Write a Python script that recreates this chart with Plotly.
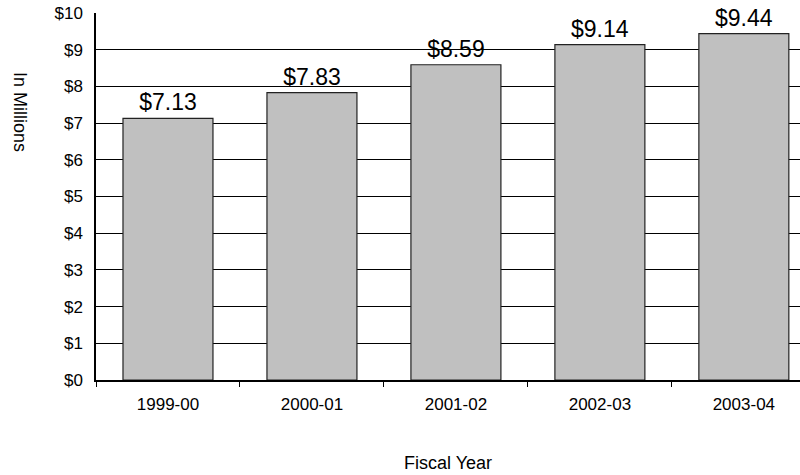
import plotly.graph_objects as go

categories = ["1999-00", "2000-01", "2001-02", "2002-03", "2003-04"]
values = [7.13, 7.83, 8.59, 9.14, 9.44]
labels = ["$7.13", "$7.83", "$8.59", "$9.14", "$9.44"]
ytick_vals = list(range(0, 11))
ytick_text = ["$" + str(v) for v in ytick_vals]

FONT = "Arial, 'Liberation Sans', sans-serif"

L, R, T, B = 96, 0, 13, 95
W, H = 800, 475
plot_w = W - L - R
plot_h = H - T - B


def px_to_paper(px, py):
    return (px - L) / plot_w, (H - B - py) / plot_h


fig = go.Figure()
fig.add_trace(go.Bar(
    x=categories,
    y=values,
    text=labels,
    textposition="outside",
    constraintext="none",
    cliponaxis=False,
    textfont=dict(family=FONT, size=23, color="black"),
    marker=dict(color="#C0C0C0", line=dict(color="#222222", width=1.2)),
    width=0.625,
    hoverinfo="skip",
))

ax1 = px_to_paper(20, 112)
ax2 = px_to_paper(448, 463)

fig.update_layout(
    width=W, height=H,
    margin=dict(l=L, r=R, t=T, b=B),
    paper_bgcolor="white", plot_bgcolor="white",
    showlegend=False,
    font=dict(family=FONT, size=17, color="black"),
    xaxis=dict(
        type="category",
        range=[-0.5, 4.39],
        showgrid=False,
        showline=True, linecolor="black", linewidth=1.5,
        ticks="outside", tickson="boundaries", ticklen=5,
        tickcolor="black", tickwidth=1,
        ticklabelstandoff=8,
        tickfont=dict(family=FONT, size=17, color="black"),
        zeroline=False,
    ),
    yaxis=dict(
        range=[0, 10],
        tickmode="array", tickvals=ytick_vals, ticktext=ytick_text,
        showgrid=True, gridcolor="black", gridwidth=1,
        showline=True, linecolor="black", linewidth=1.5,
        zeroline=False,
        ticks="", ticklabelstandoff=8,
        tickfont=dict(family=FONT, size=17, color="black"),
    ),
    annotations=[
        dict(text="In Millions", x=ax1[0], y=ax1[1], xref="paper", yref="paper",
             xanchor="center", yanchor="middle",
             showarrow=False, textangle=90, font=dict(family=FONT, size=18)),
        dict(text="Fiscal Year", x=ax2[0], y=ax2[1], xref="paper", yref="paper",
             xanchor="center", yanchor="middle",
             showarrow=False, font=dict(family=FONT, size=18)),
    ],
)

fig.write_html("out.html", config={"displayModeBar": False},
               post_script="document.body.style.margin='0';")
